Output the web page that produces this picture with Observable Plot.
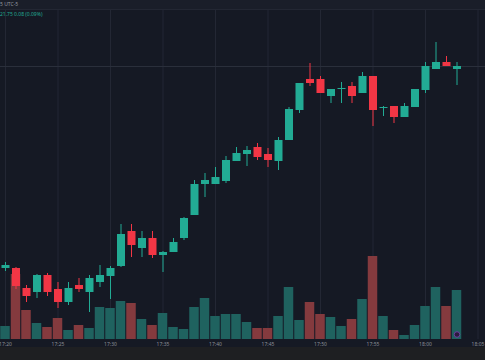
<!DOCTYPE html>
<html><head><meta charset="utf-8">
<script src="https://cdn.jsdelivr.net/npm/d3@7"></script>
<script src="https://cdn.jsdelivr.net/npm/@observablehq/plot@0.6"></script>
<style>
html,body{margin:0;padding:0;background:#151924;}
#chart{position:relative;width:485px;height:360px;overflow:hidden;background:#151924;font-family:"Noto Sans",sans-serif;}
#chart svg{position:absolute;left:0;top:0;}
#topbar{position:absolute;left:0;top:0;width:485px;height:9px;background:#1a1e29;border-bottom:1px solid #232733;}
#tz{position:absolute;left:0;top:1px;font-size:5px;line-height:6px;color:#9598a1;white-space:nowrap;}
#chg{position:absolute;left:0;top:11px;font-size:5px;line-height:6px;color:#22ab94;white-space:nowrap;}
#foot{position:absolute;left:0;top:347px;width:485px;height:13px;background:#1e1f22;}
</style></head>
<body>
<div id="chart"></div>
<script>
// one-minute candles, 17:20 .. 18:03
const minuteIdx = d3.range(44);
const opens  = [88.92,88.92,88.72,88.68,88.85,88.71,88.58,88.75,88.68,88.78,88.84,88.94,89.29,89.12,89.22,89.05,89.08,89.22,89.45,89.76,89.76,89.79,89.99,90.06,90.13,90.06,89.99,90.20,90.50,90.81,90.81,90.64,90.71,90.74,90.67,90.84,90.52,90.54,90.43,90.53,90.70,90.91,90.98,90.91];
const highs  = [88.98,88.93,88.75,88.86,88.87,88.78,88.78,88.82,88.85,88.95,88.94,89.36,89.36,89.29,89.29,89.09,89.22,89.43,89.80,89.87,89.93,90.04,90.13,90.14,90.17,90.12,90.23,90.53,90.77,90.97,90.84,90.71,90.78,90.78,90.88,90.84,90.54,90.54,90.57,90.71,90.98,91.18,91.04,90.98];
const lows   = [88.89,88.71,88.58,88.62,88.64,88.52,88.55,88.68,88.48,88.73,88.61,88.93,89.03,89.03,89.02,88.88,89.08,89.20,89.45,89.63,89.76,89.77,89.99,89.94,90.00,89.93,89.90,90.20,90.47,90.74,90.67,90.57,90.57,90.57,90.67,90.34,90.44,90.37,90.43,90.53,90.67,90.91,90.94,90.75];
const closes = [88.95,88.74,88.64,88.85,88.68,88.58,88.72,88.71,88.82,88.85,88.92,89.26,89.15,89.22,89.05,89.08,89.18,89.42,89.76,89.80,89.83,90.00,90.07,90.10,90.03,90.00,90.20,90.51,90.77,90.77,90.67,90.71,90.72,90.64,90.84,90.50,90.53,90.43,90.54,90.71,90.94,90.98,90.94,90.94];
const volumes = [130,650,290,160,120,210,90,140,110,320,310,380,360,200,140,260,120,100,320,410,230,250,250,170,110,110,230,520,190,370,250,220,130,200,400,830,230,90,40,140,330,520,330,490];
const tickIdx = [0,5,10,15,20,25,30,35,40,45];
const tickLabels = ["17:20","17:25","17:30","17:35","17:40","17:45","17:50","17:55","18:00","18:05"];
const eventIdx = [43];

const UP = "#22ab94", DOWN = "#f23645";
const VUP = "#1f625f", VDOWN = "#843a3e";

const candles = minuteIdx.map(i => ({i, open: opens[i], high: highs[i], low: lows[i], close: closes[i], vol: volumes[i], up: closes[i] >= opens[i]}));
const lastClose = closes[closes.length - 1];

const W = 485, H = 360;
const xScale = {type: "linear", domain: [-5/10.5, 480/10.5]};

const volPlot = Plot.plot({
  width: W, height: H,
  marginLeft: 0, marginRight: 0, marginTop: 0, marginBottom: 21,
  x: {...xScale, axis: null},
  y: {domain: [0, 3390], range: [339, 0], axis: null},
  style: {background: "transparent", overflow: "visible"},
  marks: [
    Plot.gridX(tickIdx, {stroke: "#232734", strokeOpacity: 1}),
    Plot.rectY(candles, {x1: d => d.i - 0.5, x2: d => d.i + 0.5, y: "vol", fill: d => d.up ? VUP : VDOWN, insetLeft: 0.5, insetRight: 0.5}),
    Plot.dot(eventIdx, {x: d => d, frameAnchor: "bottom", dy: -5, r: 2.8, fill: "#2c1a3d", stroke: "#6b3fa0", strokeWidth: 1})
  ]
});

const candlePlot = Plot.plot({
  width: W, height: H,
  marginLeft: 0, marginRight: 0, marginTop: 0, marginBottom: 20,
  x: {...xScale, axis: null},
  y: {domain: [88.0, 91.6], range: [360, 0], axis: null},
  style: {background: "transparent", overflow: "visible"},
  marks: [
    Plot.ruleY([lastClose], {stroke: "#2a2f3b", strokeWidth: 1}),
    Plot.ruleX(candles, {x: "i", y1: "low", y2: "high", stroke: d => d.up ? UP : DOWN, strokeWidth: 1}),
    Plot.ruleX(candles, {x: "i", y1: "open", y2: "close", stroke: d => d.up ? UP : DOWN, strokeWidth: 8}),
    Plot.axisX(tickIdx, {anchor: "bottom", tickSize: 0, tickPadding: 1.5, fontSize: 5, fill: "#8b8e97", tickFormat: (d, k) => tickLabels[tickIdx.indexOf(d)], fontFamily: "Noto Sans"})
  ]
});

const chart = document.getElementById("chart");
chart.appendChild(volPlot);
chart.appendChild(candlePlot);
chart.insertAdjacentHTML("beforeend",
  '<div id="topbar"><div id="tz">5 UTC-5</div></div><div id="chg">21.75 0.08 (0.09%)</div><div id="foot"></div>');
</script>
</body></html>
